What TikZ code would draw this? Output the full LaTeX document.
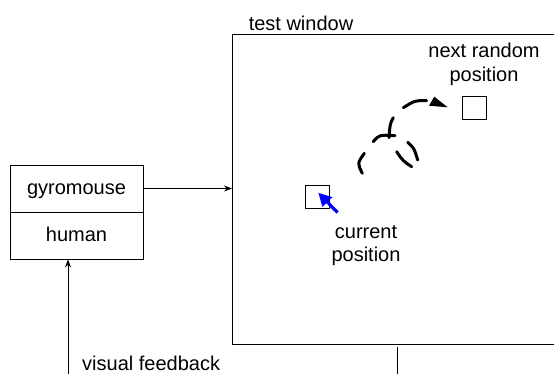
\documentclass[tikz,border=0pt]{standalone}
\usepackage{fontspec}
\setmainfont{Liberation Sans}
\usetikzlibrary{arrows.meta}
\begin{document}
\begin{tikzpicture}[x=1pt,y=-1pt,
  lbl/.style={font=\fontsize{20}{23.3}\selectfont, inner sep=0pt},
  cell/.style={draw, line width=0.9pt, minimum width=133pt, minimum height=47pt, inner sep=0pt,
    font=\fontsize{20}{23.3}\selectfont, text height=14pt, text depth=2pt},
  target/.style={draw, line width=0.9pt, minimum width=24pt, minimum height=23pt, inner sep=0pt},
  arr/.style={line width=0.8pt, -{Stealth[length=8pt,width=6pt]}},
  stroke/.style={line width=3pt, line cap=round}
]
\useasboundingbox (0,0) rectangle (554,374);
% left box
\node[cell] (gyro) at (76.5,188.5) {gyromouse};
\node[cell] (human) at (76.5,235.5) {human};
% test window
\node[draw, line width=0.9pt, anchor=north west, minimum width=340pt, minimum height=310pt, inner sep=0pt] (win) at (232,34) {};
\node[lbl, anchor=base] (twlbl) at (301,31) {test window};
% arrow into window
\draw[arr] (gyro.east) -- (gyro.east -| win.west);
% feedback
\coordinate (fb) at (68,374);
\draw[arr] (fb) -- (fb |- human.south);
\node[lbl, anchor=base west] (fblbl) at (82,370) {visual feedback};
% bottom line
\coordinate (b0) at (397,347);
\coordinate (b1) at (397,374);
\draw[line width=0.9pt] (b0) -- (b1);
% targets
\node[target] (next) at (474,107.5) {};
\node[target] (cur) at (317.5,196.5) {};
\node[lbl, align=center, anchor=base] (nextlbl) at (484,81.3) {next random\\position};
\node[lbl, align=center, anchor=base] (curlbl) at (366,261.7) {current\\position};
% blue pointer
\coordinate (ptip) at (318.3,192.7);
\coordinate (ptail) at (337.5,212.5);
\draw[blue, line width=3.2pt, -{Triangle[length=13pt,width=13pt]}] (ptail) -- (ptip);
% dashed path strokes
\draw[stroke] (362.3,173.3) .. controls (357.3,163.3) .. (364.3,153.3);
\draw[stroke] (373.3,141.7) .. controls (379.2,134.7) .. (395,135.7);
\draw[stroke] (393.3,117.7) .. controls (390,124) .. (389,137.7);
\draw[stroke] (396.7,151.7) .. controls (403,161) .. (411.7,166.7);
\draw[stroke] (407.7,142.3) .. controls (414,148) .. (417.7,160);
\draw[stroke] (403.3,107.7) .. controls (415,100.4) .. (426.7,100.7);
\fill (434.3,96.7) -- (447.7,107.3) -- (429,105.7) -- cycle;
\end{tikzpicture}
\end{document}
